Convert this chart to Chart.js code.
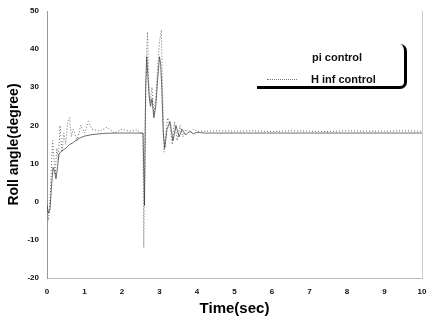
<!DOCTYPE html>
<html><head><meta charset="utf-8">
<script src="https://cdn.jsdelivr.net/npm/chart.js@4.4.0/dist/chart.umd.min.js"></script>
<style>
html,body{margin:0;padding:0;background:#fff;}
#wrap{position:relative;width:428px;height:322px;}
#legend{position:absolute;left:257px;top:44px;width:147px;height:42px;border-right:3px solid #000;border-bottom:3px solid #000;border-radius:0 7px 7px 0;font-family:"Liberation Sans",Arial,sans-serif;font-weight:bold;font-size:11px;color:#111;}
#legend .r1{position:absolute;left:55px;top:7px;}
#legend .r2{position:absolute;left:54px;top:29px;}
#legend .ln{position:absolute;left:10px;top:35px;width:30px;border-top:1px dotted #777;}
</style></head>
<body><div id="wrap"><canvas id="c" width="428" height="322"></canvas>
<div id="legend"><span class="r1">pi control</span><span class="ln"></span><span class="r2">H inf control</span></div></div>
<script>
const yTicks = [-20,-10,0,10,20,30,40,50];
const xTicks = [0,1,2,3,4,5,6,7,8,9,10];
const seriesNames = ["pi control","H inf control"];

const piTime = [0,0.04,0.08,0.12,0.16,0.2,0.24,0.28,0.32,0.36,0.42,0.5,0.6,0.7,0.8,0.9,1.0,1.2,1.5,1.8,2.1,2.4,2.56,2.6,2.63,2.66,2.69,2.72,2.76,2.8,2.85,2.9,2.95,3.0,3.03,3.06,3.1,3.14,3.2,3.28,3.36,3.44,3.52,3.6,3.7,3.8,3.9,4.0,4.2,4.5,5,5.5,6,6.5,7,7.5,8,8.5,9,9.5,10];
const piValues = [-1,-3,-2,4,9,8,6,9,12.5,13,13.5,14,15,15.5,16.3,16.8,17.2,17.6,17.9,18,18,18,18,-1,30,38,33,28,25,27,22,25,32,38,36,30,18,14,19,21,16,20,17,19,17.5,18.5,17.8,18.2,18,18,18,18,18,18,18,18,18,18,18,18,18];

const hinfTime = [0,0.03,0.06,0.09,0.12,0.15,0.18,0.22,0.26,0.3,0.35,0.4,0.45,0.5,0.55,0.6,0.65,0.7,0.8,0.9,1.0,1.1,1.2,1.4,1.6,1.8,2.0,2.2,2.4,2.5,2.56,2.58,2.62,2.66,2.68,2.71,2.75,2.8,2.85,2.9,2.95,3.0,3.05,3.08,3.12,3.16,3.22,3.28,3.34,3.4,3.47,3.55,3.62,3.7,3.8,3.9,4.0,4.2,4.5,5,5.5,6,6.5,7,7.5,8,8.5,9,9.5,10];
const hinfValues = [0,-5,-3,2,10,16,12,7,14,11,20,13,18,15,21,22,17,19,16,20,18,21,19,18.5,19.5,18,19,18.5,18.8,18,18,-12,20,40,44.5,32,26,30,23,27,35,42,45,30,13,17,22,20,15,21,16,20,17,19,18,19,18.5,18.5,18.6,18.5,18.6,18.4,18.6,18.5,18.4,18.6,18.5,18.5,18.6,18.5];

const toPts = (t,v)=>t.map((x,i)=>({x:x,y:v[i]}));
const tickFont = {family:"'Liberation Sans', Arial, sans-serif", size:8, weight:'bold'};

new Chart(document.getElementById('c'), {
  type:'line',
  data:{datasets:[
    {label:seriesNames[0], data:toPts(piTime,piValues), borderColor:'rgba(50,50,50,0.7)', borderWidth:1, pointRadius:0, tension:0},
    {label:seriesNames[1], data:toPts(hinfTime,hinfValues), borderColor:'rgba(80,80,80,0.85)', borderWidth:1, borderDash:[1,2], pointRadius:0, tension:0}
  ]},
  options:{
    responsive:false, animation:false, devicePixelRatio:1,
    layout:{padding:{top:11,right:6,bottom:0,left:0}},
    plugins:{legend:{display:false}, tooltip:{enabled:false}},
    scales:{
      x:{type:'linear', min:0, max:10,
        afterBuildTicks:s=>{s.ticks=xTicks.map(v=>({value:v}));},
        afterFit:s=>{s.height=44;},
        grid:{display:false},
        border:{display:true,color:'#bbb',dash:[1,3]},
        ticks:{font:tickFont,color:'#111',padding:1,maxRotation:0},
        title:{display:true,text:'Time(sec)',font:{family:"'Liberation Sans', Arial, sans-serif",size:15,weight:'bold'},color:'#000',padding:{top:0,bottom:4}}
      },
      y:{min:-20,max:50,
        afterBuildTicks:s=>{s.ticks=yTicks.map(v=>({value:v}));},
        afterFit:s=>{s.width=47;},
        grid:{display:false},
        border:{display:true,color:'#999',dash:[1,2]},
        ticks:{font:tickFont,color:'#111',padding:0},
        title:{display:true,text:'Roll angle(degree)',font:{family:"'Liberation Sans', Arial, sans-serif",size:14,weight:'bold'},color:'#000',padding:{top:6,bottom:0}}
      },
      y2:{position:'right',min:-20,max:50,afterFit:s=>{s.width=0;},
        grid:{display:false},ticks:{display:false},
        border:{display:true,color:'#ccc',dash:[1,3]}}
    }
  }
});
</script></body></html>
